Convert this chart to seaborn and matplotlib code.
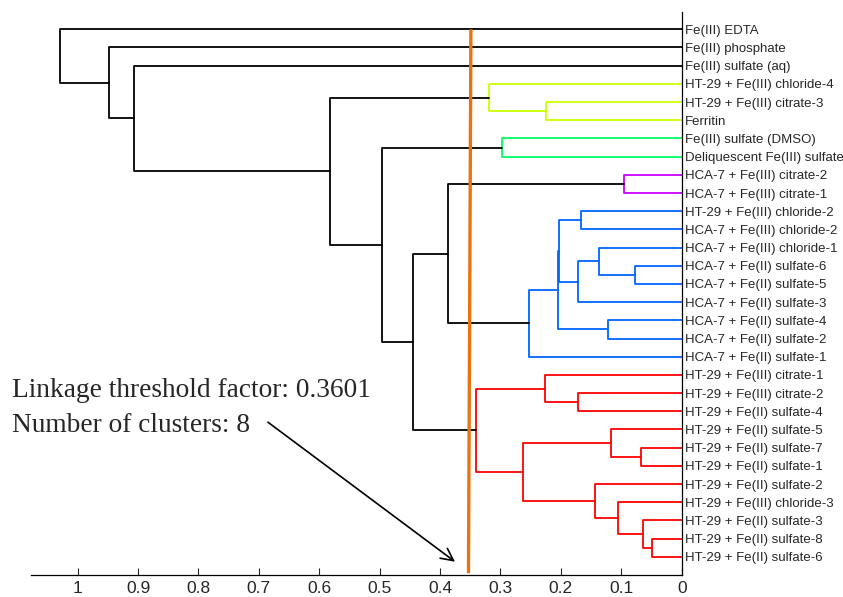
import numpy as np
import pandas as pd
import seaborn as sns
import matplotlib.pyplot as plt

# leaves, top to bottom
leaf_labels = [
    'Fe(III) EDTA', 'Fe(III) phosphate', 'Fe(III) sulfate (aq)',
    'HT-29 + Fe(III) chloride-4', 'HT-29 + Fe(III) citrate-3', 'Ferritin',
    'Fe(III) sulfate (DMSO)', 'Deliquescent Fe(III) sulfate',
    'HCA-7 + Fe(III) citrate-2', 'HCA-7 + Fe(III) citrate-1',
    'HT-29 + Fe(III) chloride-2', 'HCA-7 + Fe(III) chloride-2',
    'HCA-7 + Fe(III) chloride-1', 'HCA-7 + Fe(II) sulfate-6',
    'HCA-7 + Fe(II) sulfate-5', 'HCA-7 + Fe(II) sulfate-3',
    'HCA-7 + Fe(II) sulfate-4', 'HCA-7 + Fe(II) sulfate-2',
    'HCA-7 + Fe(II) sulfate-1', 'HT-29 + Fe(III) citrate-1',
    'HT-29 + Fe(III) citrate-2', 'HT-29 + Fe(II) sulfate-4',
    'HT-29 + Fe(II) sulfate-5', 'HT-29 + Fe(II) sulfate-7',
    'HT-29 + Fe(II) sulfate-1', 'HT-29 + Fe(II) sulfate-2',
    'HT-29 + Fe(III) chloride-3', 'HT-29 + Fe(II) sulfate-3',
    'HT-29 + Fe(II) sulfate-8', 'HT-29 + Fe(II) sulfate-6',
]

# linkage: children (leaves 0..29, clusters 30+) and merge heights
merge_a = [28, 27, 23, 13, 8, 26, 22, 16, 12, 25, 10, 20, 38, 40, 43,
           4, 19, 44, 36, 6, 3, 46, 34, 52, 49, 50, 2, 1, 0]
merge_b = [29, 30, 24, 14, 9, 31, 32, 17, 33, 35, 11, 21, 15, 42, 37,
           5, 41, 18, 39, 7, 45, 48, 47, 51, 53, 54, 55, 56, 57]
merge_h = [0.0487, 0.0641, 0.0674, 0.0773, 0.096, 0.106, 0.1166, 0.1225,
           0.1364, 0.1435, 0.1667, 0.1712, 0.1725, 0.2038, 0.2043, 0.2252,
           0.2268, 0.252, 0.2623, 0.2975, 0.319, 0.3406, 0.3864, 0.4444,
           0.4967, 0.5823, 0.9063, 0.9477, 1.0293]

threshold = 0.3601
n_clusters = 8
cluster_colors = ['#CCFF00', '#00FF66', '#CC00FF', '#0066FF', '#FF0000']

x_ticks = [1, 0.9, 0.8, 0.7, 0.6, 0.5, 0.4, 0.3, 0.2, 0.1, 0]
x_tick_labels = ['1', '0.9', '0.8', '0.7', '0.6', '0.5', '0.4', '0.3', '0.2', '0.1', '0']

# --- node positions ---
n = len(leaf_labels)
node_x = {i: 0.0 for i in range(n)}
node_y = {i: float(i + 1) for i in range(n)}
parent = {}
for k, (a, b, h) in enumerate(zip(merge_a, merge_b, merge_h)):
    nid = n + k
    node_x[nid] = h
    node_y[nid] = (node_y[a] + node_y[b]) / 2
    parent[a] = nid
    parent[b] = nid

# colour: links below threshold take colour of their cluster root
roots = []
for k, h in enumerate(merge_h):
    nid = n + k
    if h < threshold and (nid not in parent or merge_h[parent[nid] - n] >= threshold):
        roots.append(nid)
roots.sort(key=lambda r: node_y[r])
root_color = {r: cluster_colors[i] for i, r in enumerate(roots)}


def link_color(nid):
    if merge_h[nid - n] >= threshold:
        return 'black'
    while nid not in root_color:
        nid = parent[nid]
    return root_color[nid]


rows = []
for k, (a, b, h) in enumerate(zip(merge_a, merge_b, merge_h)):
    c = link_color(n + k)
    pts = [(node_x[a], node_y[a]), (h, node_y[a]), (h, node_y[b]), (node_x[b], node_y[b])]
    for x, y in pts:
        rows.append({'link': k, 'x': x, 'y': y, 'color': c})
df = pd.DataFrame(rows)

sns.set_style('ticks')
plt.rcParams['font.family'] = ['Liberation Sans', 'DejaVu Sans']

fig = plt.figure(figsize=(8.43, 5.97), dpi=100)
ax = fig.add_axes([31 / 843, 1 - 575 / 597, (681.7 - 31) / 843, (575 - 12.3) / 597])

palette = {c: c for c in df['color'].unique()}
sns.lineplot(data=df, x='x', y='y', units='link', estimator=None, sort=False,
             hue='color', palette=palette, legend=False, linewidth=1.3, ax=ax)

# threshold line
ax.plot([0.349, 0.353], [1.0, 30.9], color='#E8730F', linewidth=2.4, zorder=5,
        solid_capstyle='butt')

ax.annotate('', xy=(0.3753, 30.27), xytext=(0.685, 22.6),
            arrowprops=dict(arrowstyle='->', color='black', lw=1.2,
                            mutation_scale=22, shrinkA=0, shrinkB=0))

ax.set_xlim(1.0773, 0)
ax.set_ylim(31.0, 0.065)
ax.set_xticks(x_ticks)
ax.set_xticklabels(x_tick_labels, fontsize=12.5)
ax.yaxis.tick_right()
ax.set_yticks(range(1, n + 1))
ax.set_yticklabels(leaf_labels, fontsize=9.5)
ax.tick_params(axis='x', direction='in', length=5, width=0.8, pad=4.5)
ax.tick_params(axis='y', direction='in', length=0, pad=2.5)
ax.set_xlabel('')
ax.set_ylabel('')
for s in ['left', 'top']:
    ax.spines[s].set_visible(False)
for s in ['right', 'bottom']:
    ax.spines[s].set_visible(True)
    ax.spines[s].set_linewidth(0.9)
    ax.spines[s].set_color('black')

fig.text(12 / 843, 1 - 396.7 / 597, f'Linkage threshold factor: {threshold:.4f}',
         family='Liberation Serif', fontsize=19.7, va='baseline')
fig.text(12 / 843, 1 - 431.7 / 597, f'Number of clusters: {n_clusters}',
         family='Liberation Serif', fontsize=19.7, va='baseline')

fig.savefig('out.png', dpi=100)
